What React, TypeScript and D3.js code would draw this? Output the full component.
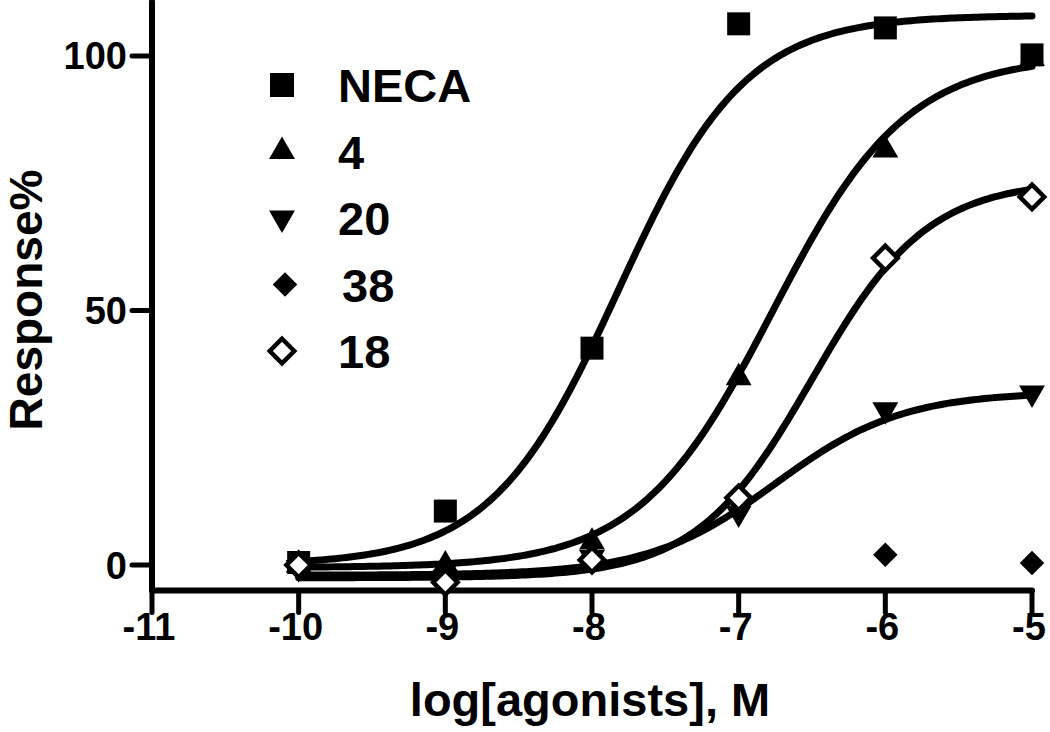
import React from "react";
import * as d3 from "d3";

// ---- data ----
const logDoses = [-10, -9, -8, -7, -6, -5];
const necaValues = [0.5, 10.6, 42.6, 106.3, 105.5, 100.2];
const c4Values = [0, 0, 4.5, 36.8, 81.5, 99.5];
const c20Values = [-0.5, -1, 1.5, 10.2, 30.5, 33.8];
const c38Values: (number | null)[] = [0, -1, null, null, 2.0, 0.4];
const c18Values = [0, -3.4, 1, 13.2, 60.3, 72.3];

const seriesNames = ["NECA", "4", "20", "38", "18"];

// fitted sigmoid (4-parameter logistic) parameters, per series (null = no fit line)
const fitBottom = [0, -0.5, -2, null, -2.5];
const fitTop = [108, 100, 34, null, 75.5];
const fitLogEC50 = [-7.82, -6.77, -6.75, null, -6.5];
const fitHill = [1, 0.95, 1, null, 1.1];

const xTicks = [-11, -10, -9, -8, -7, -6, -5];
const yTicks = [0, 50, 100];
const xDomain = [-11, -5];
const yDomain = [-5, 110];

const xTitle = "log[agonists], M";
const yTitle = "Response%";

// ---- symbols ----
const diamondSym = {
  draw(ctx: any, size: number) {
    const r = Math.sqrt(size / 2);
    ctx.moveTo(0, -r);
    ctx.lineTo(r, 0);
    ctx.lineTo(0, r);
    ctx.lineTo(-r, 0);
    ctx.closePath();
  },
};
const downTriSym = {
  draw(ctx: any, size: number) {
    const s = Math.sqrt(size / (Math.sqrt(3) / 4));
    const h = (s * Math.sqrt(3)) / 2;
    ctx.moveTo(-s / 2, -h / 3);
    ctx.lineTo(s / 2, -h / 3);
    ctx.lineTo(0, (2 * h) / 3);
    ctx.closePath();
  },
};

const FONT = "'Liberation Sans', Arial, Helvetica, sans-serif";

export default function App() {
  const W = 1050;
  const H = 732;
  const x = d3.scaleLinear().domain(xDomain).range([152, 1032]);
  const y = d3.scaleLinear().domain(yDomain).range([590.5, 5]);

  const allValues = [necaValues, c4Values, c20Values, c38Values, c18Values];
  const symbolTypes: any[] = [d3.symbolSquare, d3.symbolTriangle, downTriSym, diamondSym, diamondSym];
  const symbolSizes = [529, 290, 290, 300, 300];
  const fills = ["#000", "#000", "#000", "#000", "#fff"];
  const strokes = ["none", "none", "none", "none", "#000"];
  const strokeW = [0, 0, 0, 0, 4.5];

  const curveX = d3.range(0, 201).map((i) => -10 + (i * 5) / 200);
  const line = d3
    .line<[number, number]>()
    .x((d) => x(d[0]))
    .y((d) => y(d[1]))
    .curve(d3.curveLinear);

  const curves = seriesNames.map((_, si) => {
    const b = fitBottom[si];
    if (b == null) return null;
    const t = fitTop[si] as number;
    const ec = fitLogEC50[si] as number;
    const h = fitHill[si] as number;
    const pts: [number, number][] = curveX.map((lx) => [
      lx,
      (b as number) + (t - (b as number)) / (1 + Math.pow(10, (ec - lx) * h)),
    ]);
    return line(pts);
  });

  const sym = (si: number, scale = 1) =>
    d3.symbol().type(symbolTypes[si]).size(symbolSizes[si] * scale)() as string;

  const legendY0 = 85;
  const legendStep = 66.5;

  return (
    <svg width={W} height={H} style={{ display: "block", position: "absolute", left: 0, top: 0 }}>
      <rect width={W} height={H} fill="#fff" />
      {/* axes */}
      <g stroke="#000" strokeLinecap="round" fill="none">
        <line x1={x(-11)} x2={x(-11)} y1={2} y2={y(-5)} strokeWidth={6} />
        <line x1={x(-11)} x2={x(-5)} y1={y(-5)} y2={y(-5)} strokeWidth={6} />
        {yTicks.map((t) => (
          <line key={"yt" + t} x1={x(-11) - 20} x2={x(-11)} y1={y(t)} y2={y(t)} strokeWidth={5} />
        ))}
        {xTicks.map((t) => (
          <line key={"xt" + t} x1={x(t)} x2={x(t)} y1={y(-5)} y2={y(-5) + 22} strokeWidth={5} />
        ))}
      </g>
      <g fontFamily={FONT} fontWeight="bold" fontSize={38} fill="#000">
        {yTicks.map((t) => (
          <text key={"yl" + t} x={127} y={y(t) + 13.5} textAnchor="end">
            {t}
          </text>
        ))}
        {xTicks.map((t) => (
          <text key={"xl" + t} x={x(t) - 3} y={640} textAnchor="middle">
            {t}
          </text>
        ))}
      </g>
      <text x={590} y={716} textAnchor="middle" fontFamily={FONT} fontWeight="bold" fontSize={47}>
        {xTitle}
      </text>
      <text
        transform={`translate(42,${300}) rotate(-90)`}
        textAnchor="middle"
        fontFamily={FONT}
        fontWeight="bold"
        fontSize={46}
      >
        {yTitle}
      </text>

      {/* fit curves */}
      <g fill="none" stroke="#000" strokeWidth={7} strokeLinecap="round">
        {curves.map((d, i) => (d ? <path key={"c" + i} d={d} /> : null))}
      </g>

      {/* data points */}
      {allValues.map((vals, si) => (
        <g key={"s" + si}>
          {vals.map((v, i) =>
            v == null ? null : (
              <path
                key={i}
                d={sym(si)}
                transform={`translate(${x(logDoses[i])},${y(v)})`}
                fill={fills[si]}
                stroke={strokes[si]}
                strokeWidth={strokeW[si]}
              />
            )
          )}
        </g>
      ))}

      {/* legend */}
      <g>
        {seriesNames.map((name, si) => {
          const cy = legendY0 + si * legendStep;
          return (
            <g key={"l" + si}>
              <path
                d={sym(si, si === 0 ? 1.09 : 1)}
                transform={`translate(${si === 3 ? 285 : 282},${cy})`}
                fill={fills[si]}
                stroke={strokes[si]}
                strokeWidth={strokeW[si]}
              />
              <text
                x={si === 3 ? 342 : 338}
                y={cy + 17}
                fontFamily={FONT}
                fontWeight="bold"
                fontSize={47}
              >
                {name}
              </text>
            </g>
          );
        })}
      </g>
    </svg>
  );
}
